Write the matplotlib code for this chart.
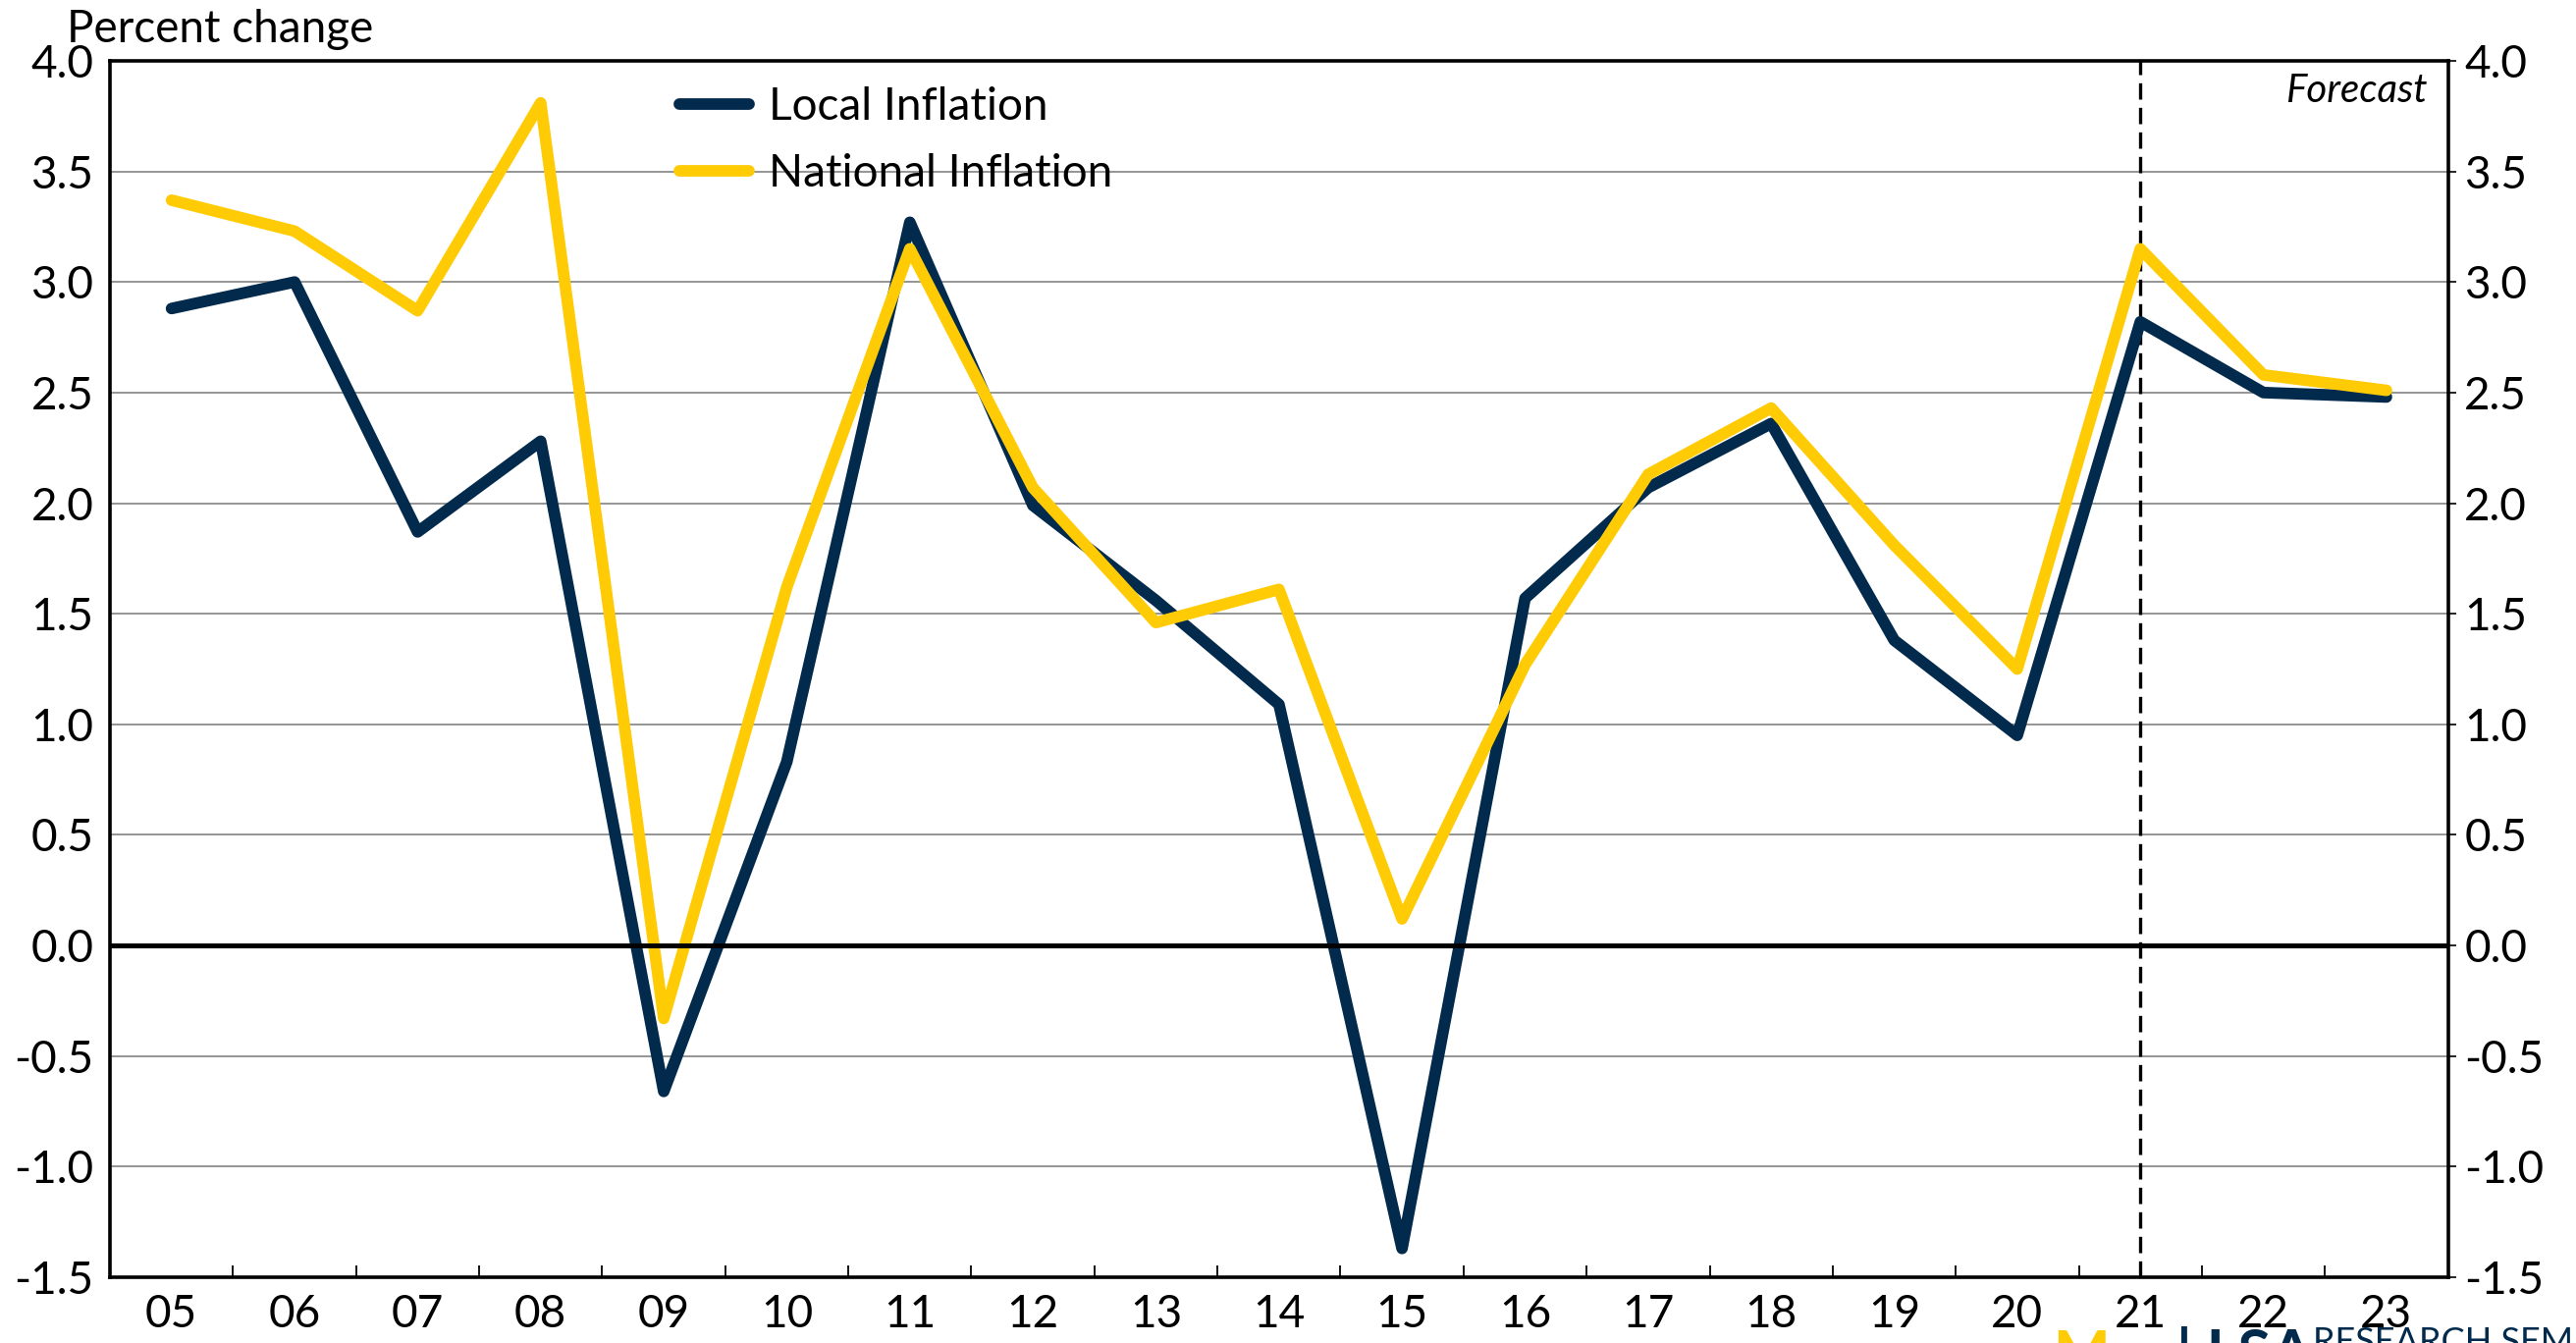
import matplotlib
matplotlib.use("Agg")
import matplotlib.pyplot as plt
import numpy as np

plt.rcParams['font.family'] = ['Lato', 'DejaVu Sans']

# Data
years = ['05', '06', '07', '08', '09', '10', '11', '12', '13', '14',
         '15', '16', '17', '18', '19', '20', '21', '22', '23']
local_inflation = [2.88, 3.00, 1.87, 2.28, -0.66, 0.83, 3.27, 1.99, 1.56, 1.09,
                   -1.37, 1.57, 2.07, 2.36, 1.38, 0.95, 2.82, 2.50, 2.48]
national_inflation = [3.37, 3.23, 2.87, 3.81, -0.33, 1.62, 3.15, 2.07, 1.46, 1.61,
                      0.12, 1.27, 2.13, 2.43, 1.81, 1.25, 3.15, 2.58, 2.51]
yticks = [-1.5, -1.0, -0.5, 0.0, 0.5, 1.0, 1.5, 2.0, 2.5, 3.0, 3.5, 4.0]
forecast_start = '21'

NAVY = '#022a4c'
GOLD = '#ffcb05'


def create_visualization():
    fig = plt.figure(figsize=(26.24, 13.68), dpi=100)
    ax = fig.add_axes([0.0427, 0.049, 0.9076, 0.9057])

    x = np.arange(len(years))
    ax.plot(x, local_inflation, color=NAVY, lw=8.5, solid_capstyle='round',
            solid_joinstyle='round', label='Local Inflation', zorder=4)
    ax.plot(x, national_inflation, color=GOLD, lw=8.5, solid_capstyle='round',
            solid_joinstyle='round', label='National Inflation', zorder=5)

    ax.set_xlim(-0.5, len(years) - 0.5)
    ax.set_ylim(-1.5, 4.0)

    # grid, zero line and forecast divider
    for y in yticks:
        ax.axhline(y, color='#8c8c8c', lw=1.3, zorder=1)
    ax.axhline(0, color='black', lw=3.6, zorder=6)
    ax.axvline(years.index(forecast_start), color='black', lw=2.4,
               ls=(0, (5, 2.5)), zorder=2)
    ax.text(0.991, 0.99, 'Forecast', transform=ax.transAxes, ha='right', va='top',
            fontsize=29, style='italic')

    # y axis labels on both sides
    ax.set_yticks(yticks)
    ax.set_yticklabels([f'{v:.1f}' for v in yticks])
    ax.yaxis.set_tick_params(left=False, right=True, labelleft=True, labelright=True,
                             labelsize=33, length=6, width=1.2, pad=6)

    # x axis: labels centred, tick marks at boundaries
    ax.set_xticks(x)
    ax.set_xticklabels(years)
    ax.tick_params(axis='x', which='major', length=0, labelsize=33, pad=12)
    ax.set_xticks(x[:-1] + 0.5, minor=True)
    ax.tick_params(axis='x', which='minor', direction='in', length=9, width=1.3)

    for s in ax.spines.values():
        s.set_linewidth(2.6)
        s.set_color('black')

    fig.text(0.026, 0.978, 'Percent change', fontsize=33, ha='left', va='center')

    leg = ax.legend(loc='upper left', bbox_to_anchor=(0.226, 1.012), frameon=False,
                    fontsize=33, handlelength=1.55, handletextpad=0.45, labelspacing=0.55)
    for h in leg.get_lines():
        h.set_linewidth(8.5)
        h.set_solid_capstyle('round')

    # logo fragment at bottom edge
    fig.text(0.797, -0.03, 'M', fontsize=44, fontweight='bold', color=GOLD,
             ha='left', va='bottom')
    fig.text(0.845, -0.03, '| LSA', fontsize=44, fontweight='bold', color=NAVY,
             ha='left', va='bottom')
    fig.text(0.898, -0.012, 'RESEARCH SEMINAR', fontsize=26, color=NAVY,
             ha='left', va='bottom')

    fig.savefig('out.png', dpi=100)
    plt.close(fig)


def main():
    create_visualization()


if __name__ == "__main__":
    main()
